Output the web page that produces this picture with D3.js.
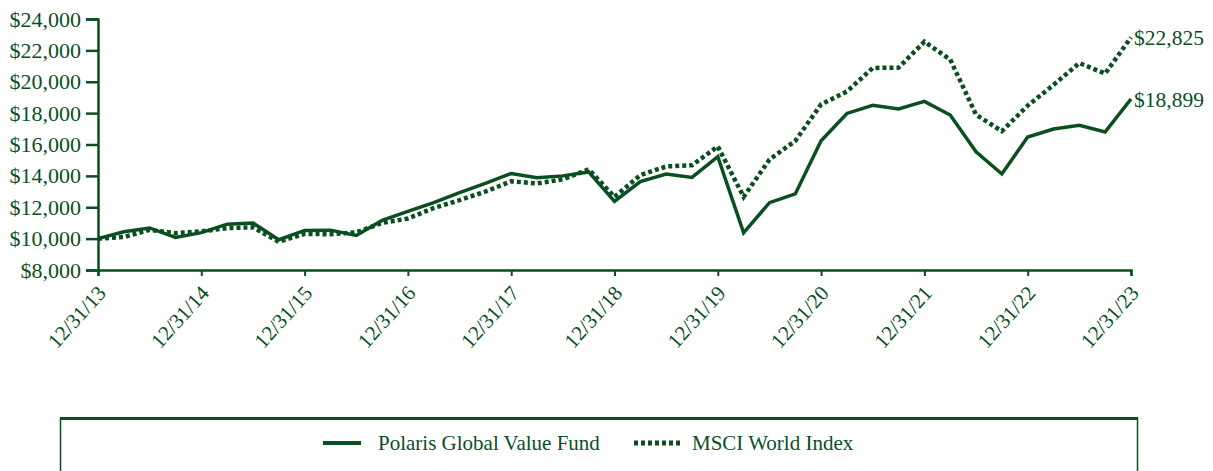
<!DOCTYPE html>
<html><head><meta charset="utf-8">
<script src="https://cdn.jsdelivr.net/npm/d3@7/dist/d3.min.js"></script>
<style>body{margin:0;background:#fff}svg{display:block}</style>
</head><body>
<svg id="c" width="1213" height="471"></svg>
<script>
const yearTicks = ["12/31/13","12/31/14","12/31/15","12/31/16","12/31/17","12/31/18","12/31/19","12/31/20","12/31/21","12/31/22","12/31/23"];
const yTickValues = [8000,10000,12000,14000,16000,18000,20000,22000,24000];
const seriesNames = ["Polaris Global Value Fund","MSCI World Index"];
// quarterly values, 12/31/13 .. 12/31/23 (41 points)
const fund = [10000,10440,10680,10080,10380,10920,11000,9930,10520,10540,10200,11160,11740,12300,12930,13520,14150,13880,14000,14250,12370,13640,14120,13900,15230,10370,12290,12850,16240,17980,18500,18270,18750,17880,15540,14120,16480,16990,17220,16800,18899];
const index = [10000,10100,10560,10350,10460,10670,10720,9800,10300,10280,10400,11000,11280,11950,12450,13000,13650,13520,13780,14420,12660,14050,14600,14680,15880,12660,15040,16230,18560,19380,20880,20900,22550,21420,17900,16850,18480,19800,21190,20520,22825];
const endLabels = ["$18,899","$22,825"];

const C = "#0a4f1f";
const svg = d3.select("#c");
const x = d3.scaleLinear().domain([0, 40]).range([98, 1131]);
const y = d3.scaleLinear().domain([8000, 24000]).range([270, 19]);
const font = "'Liberation Serif','Times New Roman',serif";

// y axis
const yAxis = svg.append("g").attr("transform","translate(98,0)")
  .call(d3.axisLeft(y).tickValues(yTickValues).tickSize(12).tickPadding(5)
        .tickFormat(d => "$" + d3.format(",")(d)));
yAxis.select(".domain").attr("stroke", C).attr("stroke-width", 2.5);
yAxis.selectAll(".tick line").attr("stroke", C).attr("stroke-width", 2.5);
yAxis.selectAll(".tick text").attr("fill", C).attr("font-family", font).attr("font-size", 22);

// x axis
const xAxis = svg.append("g").attr("transform","translate(0,270)")
  .call(d3.axisBottom(x).tickValues(d3.range(0, 41, 4)).tickSize(6)
        .tickFormat((d,i) => yearTicks[i]));
xAxis.select(".domain").attr("stroke", C).attr("stroke-width", 2.5);
xAxis.selectAll(".tick line").attr("stroke", C).attr("stroke-width", 2);
xAxis.selectAll(".tick text").attr("fill", C).attr("font-family", font).attr("font-size", 21)
  .attr("text-anchor","end").attr("y",0).attr("dy","0.35em")
  .attr("transform","translate(3,19) rotate(-48)");

const line = d3.line().x((d,i) => x(i)).y(d => y(d));
svg.append("path").datum(index).attr("d", line).attr("fill","none")
  .attr("stroke", C).attr("stroke-width", 4.5).attr("stroke-dasharray","4,3");
svg.append("path").datum(fund).attr("d", line).attr("fill","none")
  .attr("stroke", C).attr("stroke-width", 3.5).attr("stroke-linejoin","miter");

// end labels
[[fund, endLabels[0]], [index, endLabels[1]]].forEach(([s, lab]) => {
  svg.append("text").attr("x", x(40) + 3).attr("y", y(s[40])).attr("dy","0.35em")
    .attr("fill", C).attr("font-family", font).attr("font-size", 21.5).text(lab);
});

// legend box
svg.append("rect").attr("x", 60.5).attr("y", 418.5).attr("width", 1077).attr("height", 80)
  .attr("fill","none").attr("stroke", C).attr("stroke-width", 1.5);
svg.append("line").attr("x1", 60).attr("x2", 1138).attr("y1", 418.5).attr("y2", 418.5)
  .attr("stroke", C).attr("stroke-width", 3);
const ly = 443;
svg.append("line").attr("x1", 323).attr("x2", 361).attr("y1", ly).attr("y2", ly)
  .attr("stroke", C).attr("stroke-width", 4);
svg.append("text").attr("x", 378).attr("y", ly).attr("dy","0.35em").attr("fill", C)
  .attr("font-family", font).attr("font-size", 21).text(seriesNames[0]);
svg.append("line").attr("x1", 634).attr("x2", 680).attr("y1", ly).attr("y2", ly)
  .attr("stroke", C).attr("stroke-width", 5).attr("stroke-dasharray","4,3");
svg.append("text").attr("x", 692).attr("y", ly).attr("dy","0.35em").attr("fill", C)
  .attr("font-family", font).attr("font-size", 21).text(seriesNames[1]);
</script>
</body></html>
